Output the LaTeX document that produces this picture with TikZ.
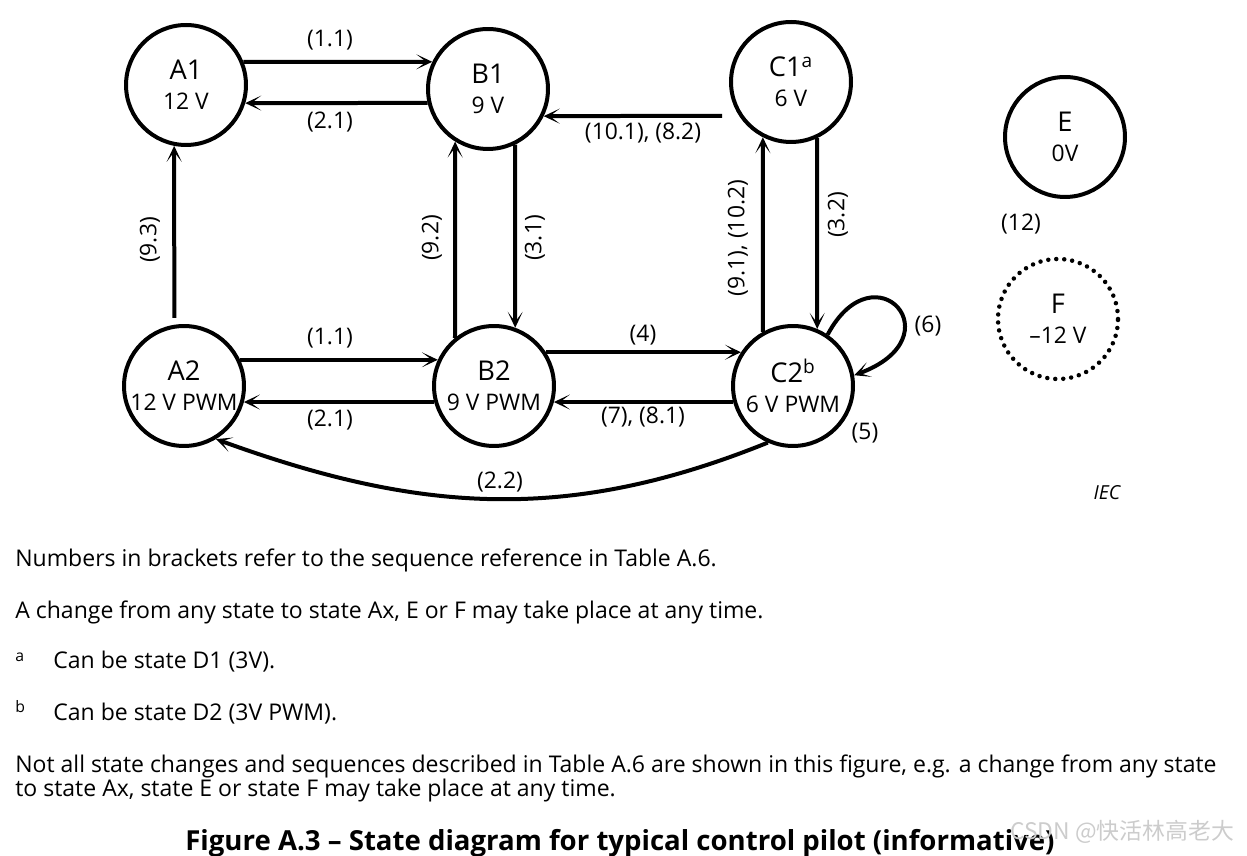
\documentclass[tikz,border=0pt]{standalone}
\usepackage{fontspec}
\setmainfont{Open Sans}
\newfontfamily\cjkfont{Noto Sans CJK SC}
\usetikzlibrary{arrows.meta}

\tikzset{
  pilot/.style={circle,draw,line width=0.08cm,minimum size=2.4cm,inner sep=0pt},
  trans/.style={line width=0.08cm,-{Stealth[length=0.32cm,width=0.3cm,inset=0.2cm]}},
  seq/.style={font=\fontsize{13}{15}\selectfont},
  note/.style={anchor=base west,inner sep=0pt,font=\fontsize{13.1}{15}\selectfont},
  footmark/.style={anchor=base west,inner sep=0pt,font=\fontsize{9}{10}\selectfont},
}
\newcommand{\stname}[2]{\fontsize{15.5}{17}\selectfont #1\\[5pt]\fontsize{13}{17}\selectfont #2}

\begin{document}
\begin{tikzpicture}[x=0.02cm,y=0.02cm]
\useasboundingbox (0,0) rectangle (1247,855);
% states
\node[pilot,label={[align=center]center:\stname{A1}{12 V}}] (A1) at (186,770) {};
\node[pilot,label={[align=center]center:\stname{B1}{9 V}}] (B1) at (488,766) {};
\node[pilot,label={[align=center]center:\stname{C1\textsuperscript{a}}{6 V}}] (C1) at (791,773) {};
\node[pilot,label={[align=center]center:\stname{E}{0V}}] (E) at (1065,718) {};
\node[pilot,label={[align=center]center:\stname{A2}{12 V PWM}}] (A2) at (184,469) {};
\node[pilot,label={[align=center]center:\stname{B2}{9 V PWM}}] (B2) at (494,469) {};
\node[pilot,label={[align=center]center:\stname{C2\textsuperscript{b}}{6 V PWM}}] (C2) at (793,469) {};
\node[pilot,draw=none,label={[align=center]center:\stname{F}{--12 V}}] (F) at (1058,536) {};
\draw[line width=0.09cm,line cap=round,dash pattern=on 0pt off 0.16cm] (F) circle (60);

% transitions
\draw[trans] (A1.22) -- (B1.154);
\draw[trans] (B1.193) -- (A1.-17);
\draw[trans,shorten <=0.34cm] (C1.213) -- (B1.-26);
\draw[trans,shorten <=0.14cm] (A2.99) -- (A1.-101);
\draw[trans] (B2.129) -- (B1.-122);
\draw[trans] (B1.-64) -- (B2.70);
\draw[trans] (C2.119) -- (C1.-117);
\draw[trans] (C1.-65) -- (C2.67);
\draw[trans] (A2.25) -- (B2.155);
\draw[trans] (B2.195) -- (A2.-15);
\draw[trans] (B2.33) -- (C2.147);
\draw[trans] (C2.195) -- (B2.-15);
\draw[trans] (C2.-114) to[out=202,in=-20] (A2.-59);
\draw[trans] (C2.56) .. controls +(62:100) and +(20:110) .. (C2.10);

% sequence numbers
\node[seq] at (330,815) {(1.1)};
\node[seq] at (330,733) {(2.1)};
\node[seq] at (643,722) {(10.1), (8.2)};
\node[seq,rotate=90] at (150,615) {(9.3)};
\node[seq,rotate=90] at (432,617) {(9.2)};
\node[seq,rotate=90] at (535,617) {(3.1)};
\node[seq,rotate=90] at (738,617) {(9.1), (10.2)};
\node[seq,rotate=90] at (838,640) {(3.2)};
\node[seq] at (330,517) {(1.1)};
\node[seq] at (330,435) {(2.1)};
\node[seq] at (643,520) {(4)};
\node[seq] at (643,438) {(7), (8.1)};
\node[seq] at (500,373) {(2.2)};
\node[seq] at (928,529) {(6)};
\node[seq] at (865,422) {(5)};
\node[seq] at (1021,631) {(12)};
\node[font=\itshape\fontsize{11}{12}\selectfont] at (1107,362) {IEC};

% notes
\node[note] at (15,288) {Numbers in brackets refer to the sequence reference in Table A.6.};
\node[note] at (15,236) {A change from any state to state Ax, E or F may take place at any time.};
\node[footmark] at (15,193) {a};
\node[note] at (53,186) {Can be state D1 (3V).};
\node[footmark] at (15,142) {b};
\node[note] at (53,134) {Can be state D2 (3V PWM).};
\node[note] at (15,82) {Not all state changes and sequences described in Table A.6 are shown in this figure, e.g. a change from any state};
\node[note] at (15,58) {to state Ax, state E or state F may take place at any time.};
\node[anchor=base,inner sep=0pt,font=\bfseries\fontsize{15.7}{18}\selectfont] at (620,5) {Figure A.3 -- State diagram for typical control pilot (informative)};
\node[anchor=base west,inner sep=0pt,text=gray!40,font=\cjkfont\fontsize{13}{15}\selectfont] at (1010,15) {CSDN @快活林高老大};
\end{tikzpicture}
\end{document}
